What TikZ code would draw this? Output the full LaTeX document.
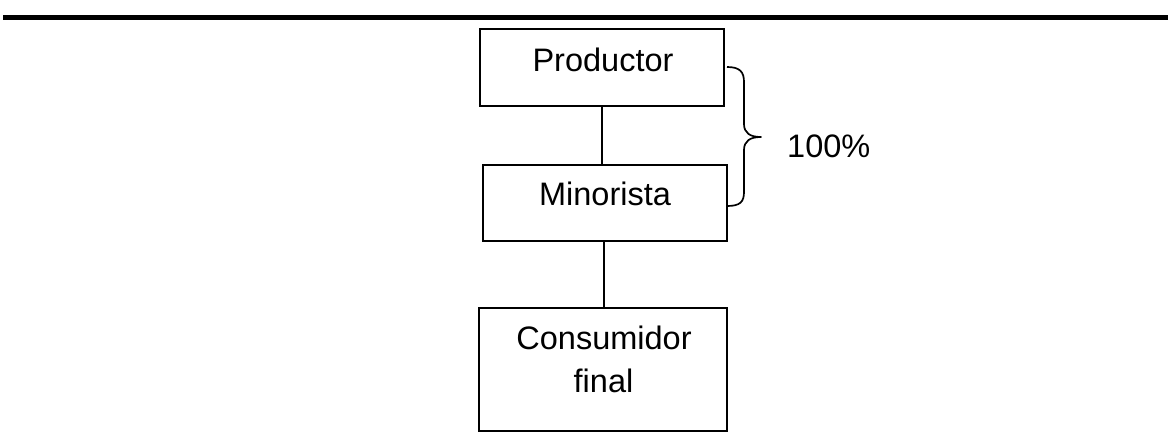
\documentclass[tikz,border=0pt]{standalone}
\usepackage{fontspec}
\setmainfont{Liberation Sans}
\begin{document}
\begin{tikzpicture}[x=1pt,y=-1pt,
  box/.style={draw,line width=1.7pt,inner sep=0pt,minimum width=#1},
  lbl/.style={anchor=base,inner sep=0pt,font=\fontsize{32.5}{38}\selectfont},
  conn/.style={line width=1.6pt}]
\useasboundingbox (0,0) rectangle (1168,436);
\draw[line width=5pt] (3,17.5) -- (1168,17.5);
\node[box=244pt,minimum height=77pt] (P) at (602,67.5) {};
\node[box=244pt,minimum height=76pt] (M) at (605,203) {};
\node[box=248pt,minimum height=123pt] (C) at (603,369.5) {};
\node[lbl] (Pt) at (603,71) {Productor};
\node[lbl] (Mt) at (605,205) {Minorista};
\node[lbl] (Ct1) at (604,349) {Consumidor};
\node[lbl] (Ct2) at (603.5,392) {final};
\node[lbl,anchor=base west] (pct) at (787,157) {100\%};
\draw[conn] (P.south) -- (P.south |- M.north);
\draw[conn] (604,241) -- (604,308);
\draw[line width=1.7pt,line join=round]
  (727,67) .. controls (740,67) and (744,72) .. (744,82)
  -- (744,124) .. controls (744,133) and (750,137) .. (761,137)
  .. controls (750,137) and (744,141) .. (744,150)
  -- (744,192) .. controls (744,202) and (740,206) .. (727,206);
\end{tikzpicture}
\end{document}
